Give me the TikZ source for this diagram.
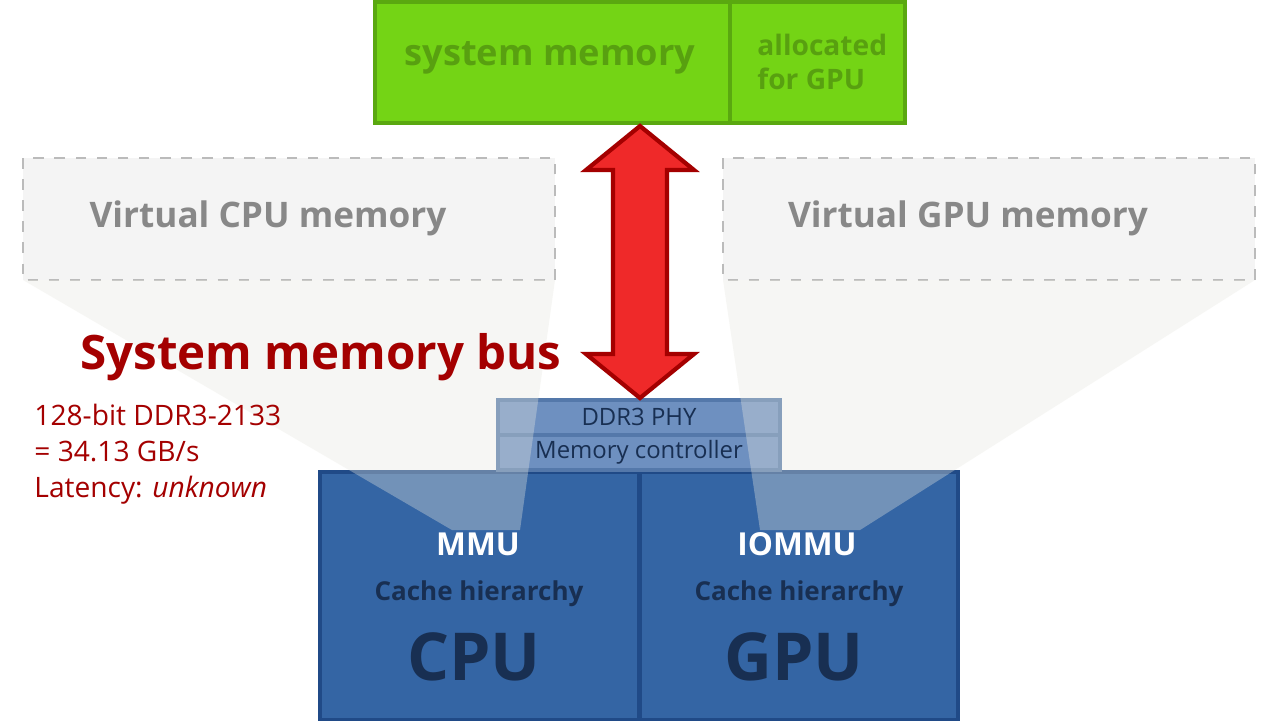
\documentclass[tikz,border=0pt]{standalone}
\usepackage{fontspec}
\setmainfont{Open Sans}
\usetikzlibrary{positioning}
\definecolor{sysgreen}{HTML}{74D415}
\definecolor{sysgreenline}{HTML}{5AA810}
\definecolor{sysgreentext}{HTML}{58A010}
\definecolor{virtfill}{HTML}{F4F4F4}
\definecolor{virtline}{HTML}{BBBBBB}
\definecolor{virttext}{HTML}{888888}
\definecolor{chipblue}{HTML}{3465A4}
\definecolor{chipline}{HTML}{204A87}
\definecolor{phyblue}{HTML}{6E90C0}
\definecolor{phyline}{HTML}{5478AA}
\definecolor{darkblue}{HTML}{182F52}
\definecolor{busred}{HTML}{A40000}
\definecolor{arrowred}{HTML}{EF2929}
\definecolor{projfill}{HTML}{E8E8E0}
\tikzstyle{virt-box}=[draw=virtline, dashed, fill=virtfill]
\tikzstyle{chip-box}=[draw=chipline, line width=1.2pt, fill=chipblue]
\tikzstyle{phy-box}=[draw=phyline, line width=1pt, fill=phyblue]
\tikzstyle{proj}=[fill=projfill, fill opacity=0.35]
\begin{document}
\begin{tikzpicture}[x=0.01cm, y=-0.01cm]
  \fill[white] (0,0) rectangle (1280,720);
  \useasboundingbox (0,0) rectangle (1280,720);
  % system memory
  \draw[draw=sysgreenline, line width=1.2pt, fill=sysgreen] (375,2) rectangle (905,123);
  \draw[draw=sysgreenline, line width=1.2pt] (730,2) -- (730,123);
  \node (sysmem) at (392,58) [anchor=west, text=sysgreentext, font=\bfseries\fontsize{10.3}{12}\selectfont] {system memory};
  \node (gpualloc) at (745,62) [anchor=west, text=sysgreentext, align=left, font=\bfseries\fontsize{8}{9.6}\selectfont] {allocated\\for GPU};
  % virtual memories
  \draw[virt-box] (23,158) rectangle (555,280);
  \draw[virt-box] (723,158) rectangle (1255,280);
  \node (vcpu) at (268,218) [text=virttext, font=\bfseries\fontsize{10}{12}\selectfont] {Virtual CPU memory};
  \node (vgpu) at (968,218) [text=virttext, font=\bfseries\fontsize{10}{12}\selectfont] {Virtual GPU memory};
  % chips
  \draw[chip-box] (320,472) rectangle (639,720);
  \draw[chip-box] (640,472) rectangle (958,720);
  \draw[phy-box] (498,400) rectangle (780,435);
  \draw[phy-box] (498,435) rectangle (780,470);
  % projections
  \fill[proj] (23,280) -- (555,280) -- (520,530) -- (452,530) -- cycle;
  \fill[proj] (723,280) -- (1255,280) -- (860,530) -- (760,530) -- cycle;
  \node (phy) at (639,417) [text=darkblue, font=\fontsize{6.8}{8}\selectfont] {DDR3 PHY};
  \node (memctl) at (639,452) [text=darkblue, font=\fontsize{6.8}{8}\selectfont] {Memory controller};
  \node (mmu) at (478,544) [text=white, font=\bfseries\fontsize{9}{11}\selectfont] {MMU};
  \node (cpucache) at (479,594) [text=darkblue, font=\bfseries\fontsize{7.4}{9}\selectfont] {Cache hierarchy};
  \node (cpu) at (474,657) [text=darkblue, font=\bfseries\fontsize{18.8}{22}\selectfont] {CPU};
  \node (iommu) at (797,544) [text=white, font=\bfseries\fontsize{9}{11}\selectfont] {IOMMU};
  \node (gpucache) at (799,594) [text=darkblue, font=\bfseries\fontsize{7.4}{9}\selectfont] {Cache hierarchy};
  \node (gpu) at (794,657) [text=darkblue, font=\bfseries\fontsize{18.8}{22}\selectfont] {GPU};
  % bus
  \draw[draw=busred, line width=1.2pt, fill=arrowred, line join=miter]
    (640,126) -- (694,170) -- (667,170) -- (667,354) -- (694,354) -- (640,398)
    -- (586,354) -- (613,354) -- (613,170) -- (586,170) -- cycle;
  \node (bus) at (68,357) [anchor=west, text=busred, font=\bfseries\fontsize{13.5}{16}\selectfont] {System memory bus};
  \node (busspec) at (22,454) [anchor=west, text=busred, align=left, font=\fontsize{8}{10.2}\selectfont] {128-bit DDR3-2133\\= 34.13 GB/s\\Latency: \textit{unknown}};
\end{tikzpicture}
\end{document}
